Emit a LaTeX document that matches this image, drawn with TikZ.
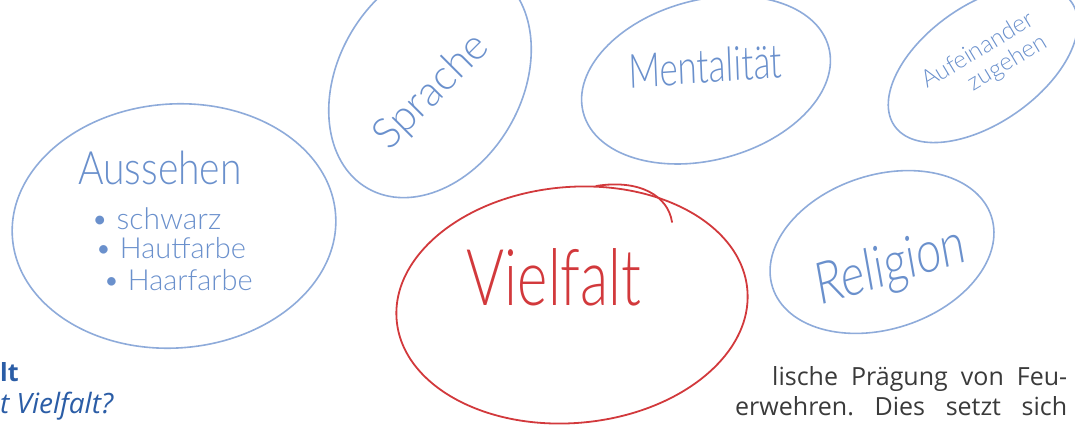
\documentclass[tikz,border=0pt]{standalone}
\usepackage{fontspec}
\setmainfont{Open Sans}
\newfontfamily\hand{Lato}[UprightFont=* Light]
\usetikzlibrary{shapes.geometric}
\definecolor{inkblue}{HTML}{6A90CC}
\definecolor{ringblue}{HTML}{8EABDA}
\definecolor{inkred}{HTML}{D2393C}
\definecolor{headblue}{HTML}{2B5DA6}
\definecolor{bodygray}{HTML}{3A3A3A}
\newcommand{\hs}[1]{\hand\fontsize{#1}{#1}\selectfont}
\frenchspacing
\begin{document}
\begin{tikzpicture}[x=1pt,y=-1pt,
  bubble/.style={ellipse, draw=ringblue, line width=1.6pt, inner sep=0pt},
  redbubble/.style={ellipse, draw=inkred, line width=1.8pt, inner sep=0pt},
  hand/.style={text=inkblue, inner sep=0pt},
  handred/.style={text=inkred, inner sep=0pt},
  head/.style={text=headblue, inner sep=0pt, anchor=base west},
  body/.style={text=bodygray, inner sep=0pt, anchor=base west, font=\fontsize{25}{30}\selectfont}]
\useasboundingbox (0,0) rectangle (1075,425);

% outlined bubbles
\node[bubble, minimum width=324pt, minimum height=244pt, rotate=4] (aussehen) at (174,226) {};
\node[bubble, minimum width=250pt, minimum height=184pt, rotate=60] (sprache) at (430,80) {};
\node[bubble, minimum width=254pt, minimum height=160pt, rotate=15] (mentalitaet) at (706,80) {};
\node[bubble, minimum width=216pt, minimum height=118pt, rotate=35] (aufeinander) at (983,64) {};
\node[bubble, minimum width=230pt, minimum height=154pt, rotate=18] (religion) at (882,252) {};
\node[redbubble, minimum width=352pt, minimum height=236pt, rotate=5] (vielfalt) at (572,305) {};
% pen stroke running past the closing point of the red bubble
\draw[inkred, line width=1.8pt, line cap=round] (596,186) .. controls (640,179) and (668,196) .. (672,222);

% handwritten labels
\node[hand, font=\hs{46}, xscale=0.85, anchor=base] (t-aussehen) at (160,184) {Aussehen};
\node[hand, font=\hs{30}, anchor=base west] (t-schwarz) at (91,229) {• schwarz};
\node[hand, font=\hs{29}, anchor=base west] (t-haut) at (95,258) {• Hautfarbe};
\node[hand, font=\hs{29}, anchor=base west] (t-haar) at (103,290) {• Haarfarbe};
\node[hand, font=\hs{42}, rotate=45] (t-sprache) at (432,92) {Sprache};
\node[hand, font=\hs{35}, yscale=1.35, rotate=3, anchor=base] (t-mental) at (706,83) {Mentalität};
\node[hand, font=\hs{24}, align=left, rotate=31] (t-aufein) at (985,62)
  {Aufeinander\\[2pt]\hspace*{1.6em}zugehen};
\node[hand, font=\hs{45}, yscale=1.3, rotate=13] (t-religion) at (891,268) {Religion};
\node[handred, font=\hs{58}, yscale=1.35, anchor=base] (t-vielfalt) at (554,305) {Vielfalt};

% surrounding page text
\node[head, font=\bfseries\fontsize{25}{30}\selectfont] (h1) at (0,381) {lt};
\node[head, font=\itshape\fontsize{28}{30}\selectfont] (h2) at (0,413) {t Vielfalt?};
\node[body] (b1) at (772,385) {\makebox[295pt][s]{lische Prägung von Feu-}};
\node[body] (b2) at (735,415) {\makebox[332pt][s]{erwehren. Dies setzt sich}};
\end{tikzpicture}
\end{document}
